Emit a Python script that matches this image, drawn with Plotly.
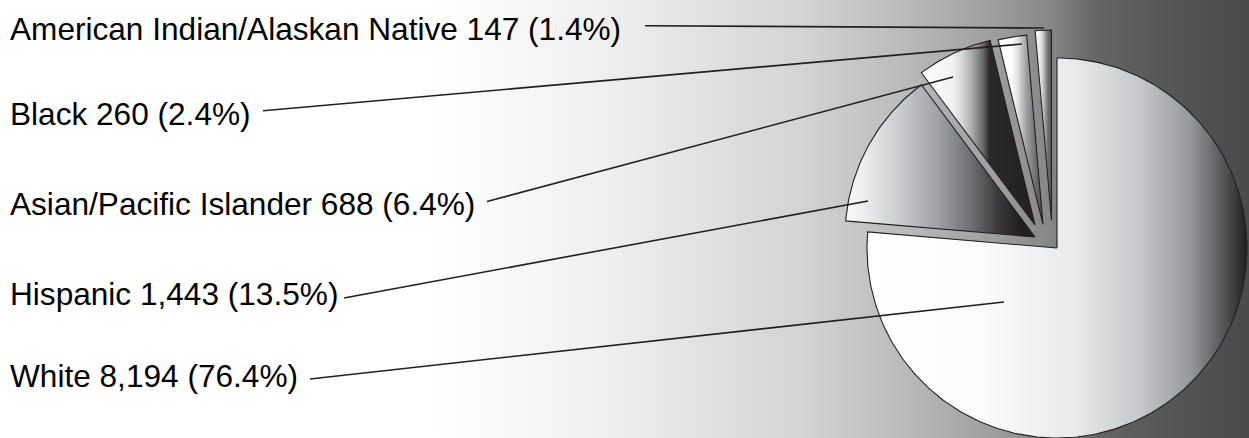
import numpy as np
import plotly.graph_objects as go

# ---- data -------------------------------------------------------------
groups = ["White", "Hispanic", "Asian/Pacific Islander", "Black",
          "American Indian/Alaskan Native"]
counts = [8194, 1443, 688, 260, 147]
percent_text = ["76.4%", "13.5%", "6.4%", "2.4%", "1.4%"]

# ---- layout / style ---------------------------------------------------
W, H = 1249, 438
RADIUS = 190
# centre of each (exploded) wedge, in pixel units of the canvas
wedge_centres = [(1057, 248), (1035, 237), (1035, 225), (1043, 224.5), (1051.5, 220)]
# grey ramps across each wedge (fraction of wedge width, colour)
wedge_ramps = [
    [(0, "#ffffff"), (0.30, "#fbfbfb"), (0.55, "#e8e9eb"), (0.72, "#c6c7ca"),
     (0.85, "#97989c"), (0.93, "#5c5c60"), (1, "#231f20")],
    [(0, "#fafafa"), (0.08, "#f0f0f1"), (0.30, "#c8c9cc"), (0.48, "#a2a3a7"),
     (0.66, "#707074"), (0.80, "#3c3a3c"), (0.92, "#231f20"), (1, "#231f20")],
    [(0, "#ffffff"), (0.27, "#f2f2f3"), (0.36, "#d5d6d8"), (0.45, "#a8a9ac"),
     (0.54, "#6a6a6d"), (0.60, "#2b2829"), (1, "#231f20")],
    [(0, "#ffffff"), (0.30, "#fbfbfb"), (0.42, "#e6e6e8"), (0.53, "#c0c1c3"),
     (0.63, "#a0a0a3"), (0.80, "#77777a"), (1, "#4a4a4c")],
    [(0, "#fafafa"), (0.35, "#e6e6e8"), (0.55, "#b2b2b5"), (0.75, "#78787b"),
     (1, "#505052")],
]
label_y = [376, 294, 204, 114, 28.5]
leader_start = [(310, 379), (344, 298), (487, 201.5), (263, 110.7), (645, 25.7)]
leader_end = [(1004, 302), (868, 201), (953, 77), (1022, 44), (1044, 28)]
background_ramp = [(0, "#ffffff"), (430, "#ffffff"), (600, "#f0f0f0"),
                   (800, "#d4d4d4"), (900, "#bcbcbc"), (1000, "#9c9c9c"),
                   (1050, "#868686"), (1100, "#646464"), (1180, "#545454"),
                   (1249, "#4a4a4a")]
FONT = "Liberation Sans, Arial, Helvetica, sans-serif"
INK = "#231f20"

fig = go.Figure()

# background sweep from white to dark grey
fig.add_trace(go.Scatter(
    x=[0, W, W, 0, 0], y=[0, 0, H, H, 0], mode="lines",
    line=dict(width=0), fill="toself", hoverinfo="skip",
    fillgradient=dict(type="horizontal", start=0, stop=W,
                      colorscale=[[p / W, c] for p, c in background_ramp]),
))

# wedges: angles measured clockwise from 12 o'clock
total = sum(counts)
edges = np.concatenate([[0], np.cumsum(counts)]) / total * 360.0
for i, name in enumerate(groups):
    a0, a1 = edges[i], edges[i + 1]
    cx, cy = wedge_centres[i]
    theta = np.radians(np.linspace(a0, a1, max(3, int(a1 - a0) + 2)))
    xs = np.concatenate([[cx], cx + RADIUS * np.sin(theta), [cx]])
    ys = np.concatenate([[cy], cy - RADIUS * np.cos(theta), [cy]])
    fig.add_trace(go.Scatter(
        x=xs, y=ys, mode="lines", fill="toself", name=name,
        line=dict(color=INK, width=1.1), hoverinfo="skip",
        fillgradient=dict(type="horizontal", start=float(xs.min()),
                          stop=float(xs.max()),
                          colorscale=[[f, c] for f, c in wedge_ramps[i]]),
    ))

# leader lines and labels
for i, name in enumerate(groups):
    (x0, y0), (x1, y1) = leader_start[i], leader_end[i]
    fig.add_trace(go.Scatter(x=[x0, x1], y=[y0, y1], mode="lines",
                             line=dict(color=INK, width=1.6), hoverinfo="skip"))
    fig.add_annotation(
        x=8, y=label_y[i], xref="x", yref="y", xanchor="left", yanchor="middle",
        text=f"{name} {counts[i]:,} ({percent_text[i]})", showarrow=False,
        font=dict(family=FONT, size=31.6, color="#000000"),
    )

fig.update_layout(
    width=W, height=H, margin=dict(l=0, r=0, t=0, b=0),
    paper_bgcolor="white", plot_bgcolor="white", showlegend=False,
    xaxis=dict(range=[0, W], visible=False, fixedrange=True),
    yaxis=dict(range=[H, 0], visible=False, fixedrange=True),
)

fig.write_html("out.html", config={"displayModeBar": False})
